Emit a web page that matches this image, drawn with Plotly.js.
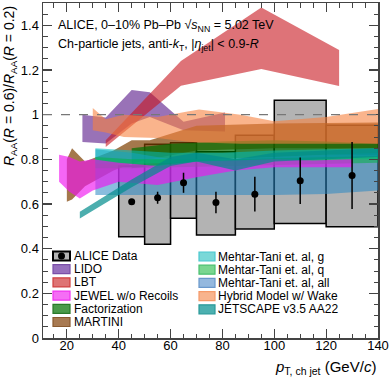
<!DOCTYPE html>
<html>
<head>
<meta charset="utf-8">
<script src="https://cdn.plot.ly/plotly-3.0.1.min.js"></script>
<style>
html, body { margin: 0; padding: 0; background: #fff; }
#chart { width: 390px; height: 380px; }
</style>
</head>
<body>
<div id="chart"></div>
<script>
'use strict'
/* ALICE data: bin edges, values, stat errors and systematic box limits */
var binLow = [40, 50, 60, 70, 85, 100, 120];
var binHigh = [50, 60, 70, 85, 100, 120, 140];
var dataX = [45, 55, 65, 77.5, 92.5, 110, 130];
var dataY = [0.61, 0.628, 0.695, 0.607, 0.644, 0.704, 0.728];
var statErr = [0.01, 0.027, 0.045, 0.048, 0.078, 0.104, 0.15];
var sysLow = [0.453, 0.42, 0.536, 0.461, 0.488, 0.513, 0.498];
var sysHigh = [0.77, 0.867, 0.874, 0.834, 0.908, 1.065, 0.953];

/* Model bands: x, lower edge, upper edge */
var lidoX = [26, 35, 45, 52, 65, 81];
var lidoLo = [0.878, 0.871, 0.96, 0.99, 0.93, 0.925];
var lidoHi = [1.0, 0.987, 1.11, 1.1, 0.968, 1.01];

var lbtX = [35, 64, 95, 125];
var lbtLo = [0.855, 1.13, 1.205, 1.128];
var lbtHi = [0.885, 1.24, 1.48, 1.29];

var jewelX = [17, 21, 25, 30, 40, 55, 70, 85, 100, 115, 130];
var jewelLo = [0.70, 0.655, 0.625, 0.66, 0.70, 0.685, 0.72, 0.75, 0.765, 0.765, 0.765];
var jewelHi = [0.82, 0.81, 0.79, 0.80, 0.785, 0.77, 0.79, 0.795, 0.80, 0.795, 0.80];

var factX = [45, 60, 80, 100, 120, 140];
var factLo = [0.76, 0.78, 0.80, 0.81, 0.82, 0.82];
var factHi = [0.85, 0.87, 0.88, 0.885, 0.88, 0.87];

var martiniX = [20, 22, 27, 38, 45, 52, 70, 100, 140];
var martiniLo = [0.61, 0.62, 0.68, 0.75, 0.78, 0.80, 0.84, 0.85, 0.85];
var martiniHi = [0.80, 0.85, 0.79, 0.84, 0.886, 0.886, 0.95, 0.96, 0.965];

var mtgX = [31, 45, 60, 80, 100, 120, 140];
var mtgLo = [0.78, 0.78, 0.785, 0.79, 0.795, 0.80, 0.80];
var mtgHi = [0.85, 0.84, 0.83, 0.83, 0.84, 0.845, 0.85];

var mtqX = [31, 45, 60, 80, 100, 120, 140];
var mtqLo = [0.76, 0.76, 0.765, 0.77, 0.775, 0.78, 0.785];
var mtqHi = [0.81, 0.80, 0.80, 0.80, 0.805, 0.81, 0.815];

var mtallX = [31, 45, 60, 80, 100, 120, 140];
var mtallLo = [0.64, 0.64, 0.64, 0.64, 0.64, 0.645, 0.66];
var mtallHi = [0.845, 0.83, 0.80, 0.80, 0.81, 0.82, 0.83];

var hybridX = [30, 35, 42, 55, 66, 71, 87, 100, 120, 140];
var hybridLo = [0.93, 0.92, 0.90, 0.895, 0.88, 0.875, 0.87, 0.87, 0.87, 0.87];
var hybridHi = [1.03, 0.98, 1.0, 0.99, 1.013, 1.023, 1.0, 0.97, 0.99, 1.025];

var jetscapeX = [25, 45, 60, 70, 85, 100, 120, 140];
var jetscapeLo = [0.535, 0.675, 0.77, 0.79, 0.75, 0.79, 0.80, 0.81];
var jetscapeHi = [0.565, 0.71, 0.81, 0.83, 0.80, 0.83, 0.84, 0.85];

/* Legend text */
var legendLeft = ['ALICE Data', 'LIDO', 'LBT', 'JEWEL w/o Recoils', 'Factorization', 'MARTINI'];
var legendRight = ['Mehtar-Tani et. al, g', 'Mehtar-Tani et. al, q', 'Mehtar-Tani et. al, all', 'Hybrid Model w/ Wake', 'JETSCAPE v3.5 AA22'];

var refLevel = 1;
var xRange = [10.8, 140];
var yRange = [0, 1.5];

/* colours: fill in plot, swatch fill, swatch outline */
var colLido = ['rgba(85,20,135,0.6)', '#9670bd', '#7a4fa8'];
var colLbt = ['rgba(200,22,30,0.6)', '#de7474', '#d04040'];
var colJewel = ['rgba(240,20,240,0.65)', '#f56ef5', '#f030f0'];
var colFact = ['rgba(0,110,0,0.7)', '#4a9a4a', '#2a7a2a'];
var colMartini = ['rgba(126,62,0,0.7)', '#a87a52', '#8a5a30'];
var colMtg = ['rgba(0,190,190,0.55)', '#7ad8d8', '#4ac8d0'];
var colMtq = ['rgba(0,180,60,0.5)', '#7ad690', '#4ac070'];
var colMtall = ['rgba(40,135,195,0.55)', '#94b8de', '#6a98cc'];
var colHybrid = ['rgba(247,130,63,0.6)', '#f8b48e', '#f59a6a'];
var colJetscape = ['rgba(0,140,140,0.7)', '#4cb0b0', '#2a9a9a'];

function band(x, lo, hi, col) {
    var xs = x.concat(x.slice().reverse());
    var ys = hi.concat(lo.slice().reverse());
    return {
        type: 'scatter',
        mode: 'lines',
        x: xs,
        y: ys,
        fill: 'toself',
        fillcolor: col[0],
        line: {width: 0},
        hoverinfo: 'skip',
        showlegend: false
    };
}

/* Systematic boxes */
var boxX = [], boxW = [], boxH = [];
for (var i = 0; i < binLow.length; i++) {
    boxX.push((binLow[i] + binHigh[i]) / 2);
    boxW.push(binHigh[i] - binLow[i]);
    boxH.push(sysHigh[i] - sysLow[i]);
}
var sysBoxes = {
    type: 'bar',
    x: boxX,
    y: boxH,
    base: sysLow,
    width: boxW,
    marker: {color: '#b3b3b3', line: {color: '#000', width: 1.5}},
    hoverinfo: 'skip',
    showlegend: false
};

var points = {
    type: 'scatter',
    mode: 'markers',
    x: dataX,
    y: dataY,
    marker: {color: '#000', size: 7},
    error_y: {type: 'data', array: statErr, visible: true, color: '#000', thickness: 1.5, width: 0},
    showlegend: false
};

var traces = [
    sysBoxes,
    band(lidoX, lidoLo, lidoHi, colLido),
    band(lbtX, lbtLo, lbtHi, colLbt),
    band(martiniX, martiniLo, martiniHi, colMartini),
    band(factX, factLo, factHi, colFact),
    band(mtallX, mtallLo, mtallHi, colMtall),
    band(mtgX, mtgLo, mtgHi, colMtg),
    band(mtqX, mtqLo, mtqHi, colMtq),
    band(jewelX, jewelLo, jewelHi, colJewel),
    band(hybridX, hybridLo, hybridHi, colHybrid),
    band(jetscapeX, jetscapeLo, jetscapeHi, colJetscape),
    points
];

/* pixel helpers for the hand-drawn legend (plot area: 43..378 x 3..338) */
function px(v) { return (v - 43) / 335; }
function py(v) { return (338 - v) / 335; }

var shapes = [{
    type: 'line', xref: 'paper', yref: 'y', x0: 0, x1: 1, y0: refLevel, y1: refLevel,
    line: {color: '#777', width: 1.2, dash: 'dash'}
}];
var annotations = [];

var rowGap = 13.2;
var leftCols = [null, colLido, colLbt, colJewel, colFact, colMartini];
var rightCols = [colMtg, colMtq, colMtall, colHybrid, colJetscape];
for (var i = 0; i < legendLeft.length; i++) {
    var yc = 256 + i * rowGap;
    var c = leftCols[i];
    shapes.push({
        type: 'rect', xref: 'paper', yref: 'paper',
        x0: px(53), x1: px(70), y0: py(yc + 4.5), y1: py(yc - 4.5),
        fillcolor: c ? c[1] : '#b3b3b3',
        line: {color: c ? c[2] : '#000', width: c ? 1.2 : 2}
    });
    if (!c) {
        shapes.push({
            type: 'circle', xref: 'paper', yref: 'paper',
            x0: px(58), x1: px(65), y0: py(yc + 3.5), y1: py(yc - 3.5),
            fillcolor: '#000', line: {color: '#000', width: 0}
        });
    }
    annotations.push({
        xref: 'paper', yref: 'paper', x: px(73), y: py(yc), xanchor: 'left', yanchor: 'middle',
        text: legendLeft[i], showarrow: false, borderpad: 0, font: {size: 12, color: '#000'}
    });
}
for (var i = 0; i < legendRight.length; i++) {
    var yc = 256.5 + i * rowGap;
    var c = rightCols[i];
    shapes.push({
        type: 'rect', xref: 'paper', yref: 'paper',
        x0: px(199), x1: px(215), y0: py(yc + 4.5), y1: py(yc - 4.5),
        fillcolor: c[1], line: {color: c[2], width: 1.2}
    });
    annotations.push({
        xref: 'paper', yref: 'paper', x: px(217), y: py(yc), xanchor: 'left', yanchor: 'middle',
        text: legendRight[i], showarrow: false, borderpad: 0, font: {size: 12, color: '#000'}
    });
}

/* labels */
annotations.push({
    xref: 'paper', yref: 'paper', x: px(56), y: py(26), xanchor: 'left', yanchor: 'middle',
    text: 'ALICE, 0–10% Pb–Pb √<i>s</i><sub>NN</sub> = 5.02 TeV', showarrow: false,
    font: {size: 12.5, color: '#000'}
});
annotations.push({
    xref: 'paper', yref: 'paper', x: px(56), y: py(45), xanchor: 'left', yanchor: 'middle',
    text: 'Ch-particle jets, anti-<i>k</i><sub>T</sub>, |<i>η</i><sub>jet</sub>| < 0.9-<i>R</i>', showarrow: false,
    font: {size: 12.5, color: '#000'}
});
annotations.push({
    xref: 'paper', yref: 'paper', x: px(378), y: py(367), xanchor: 'right', yanchor: 'middle',
    text: '<i>p</i><sub>T, ch jet</sub> (GeV/<i>c</i>)', showarrow: false,
    font: {size: 15, color: '#000'}
});
annotations.push({
    xref: 'paper', yref: 'paper', x: px(10), y: py(4), xanchor: 'center', yanchor: 'top', textangle: -90,
    text: '<i>R</i><sub>AA</sub>(<i>R</i> = 0.6)/<i>R</i><sub>AA</sub>(<i>R</i> = 0.2)', showarrow: false,
    font: {size: 14, color: '#000'}
});

var axisStyle = {
    showgrid: false,
    zeroline: false,
    showline: true,
    linecolor: '#444',
    linewidth: 1.5,
    mirror: 'allticks',
    ticks: 'inside',
    ticklen: 9,
    tickwidth: 1.2,
    tickcolor: '#444',
    tickfont: {size: 13, color: '#000'}
};

var layout = {
    width: 390,
    height: 380,
    margin: {l: 43, r: 12, t: 3, b: 42, pad: 0},
    paper_bgcolor: '#fff',
    plot_bgcolor: '#fff',
    font: {family: 'Liberation Sans, Arial, sans-serif', color: '#000'},
    showlegend: false,
    barmode: 'overlay',
    xaxis: Object.assign({}, axisStyle, {
        range: xRange, tick0: 0, dtick: 20, ticklabelstandoff: -5,
        minor: {dtick: 5, ticks: 'inside', ticklen: 4.5, tickcolor: '#444', tickwidth: 1}
    }),
    yaxis: Object.assign({}, axisStyle, {
        range: yRange, tick0: 0, dtick: 0.2,
        minor: {dtick: 0.05, ticks: 'inside', ticklen: 4.5, tickcolor: '#444', tickwidth: 1}
    }),
    shapes: shapes,
    annotations: annotations
};

Plotly.newPlot('chart', traces, layout, {displayModeBar: false, staticPlot: true});
</script>
</body>
</html>
